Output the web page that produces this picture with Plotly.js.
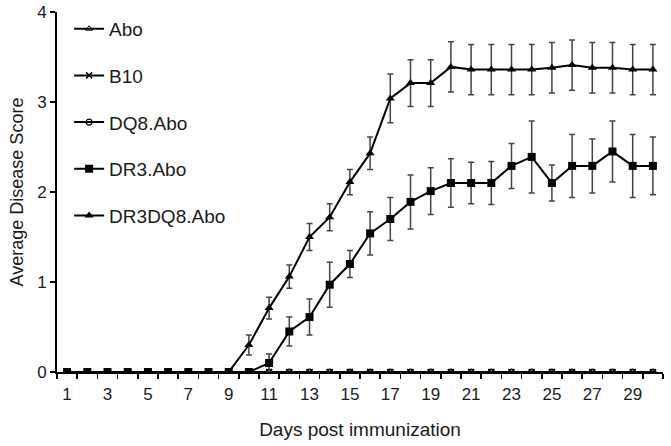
<!DOCTYPE html>
<html>
<head>
<meta charset="utf-8">
<script src="https://cdn.plot.ly/plotly-3.0.1.min.js"></script>
<style>html,body{margin:0;padding:0;background:#fff;}#chart{width:671px;height:446px;}</style>
</head>
<body>
<div id="chart"></div>
<script>
// Days post immunization (categories)
const days = [1,2,3,4,5,6,7,8,9,10,11,12,13,14,15,16,17,18,19,20,21,22,23,24,25,26,27,28,29,30];
const tickDays = [1,3,5,7,9,11,13,15,17,19,21,23,25,27,29];

const seriesNames = ["Abo","B10","DQ8.Abo","DR3.Abo","DR3DQ8.Abo"];

const abo     = [0,0,0,0,0,0,0,0,0,0,0,0,0,0,0,0,0,0,0,0,0,0,0,0,0,0,0,0,0,0];
const b10     = [0,0,0,0,0,0,0,0,0,0,0,0,0,0,0,0,0,0,0,0,0,0,0,0,0,0,0,0,0,0];
const dq8Abo  = [0,0,0,0,0,0,0,0,0,0,0,0,0,0,0,0,0,0,0,0,0,0,0,0,0,0,0,0,0,0];
const dr3Abo  = [0,0,0,0,0,0,0,0,0,0,0.10,0.45,0.61,0.97,1.20,1.54,1.70,1.89,2.01,2.10,2.10,2.10,2.29,2.39,2.10,2.29,2.29,2.45,2.29,2.29];
const dr3AboErr = [0,0,0,0,0,0,0,0,0,0,0.10,0.16,0.20,0.25,0.15,0.24,0.24,0.30,0.26,0.27,0.23,0.24,0.25,0.40,0.20,0.35,0.30,0.34,0.35,0.32];
const dr3dq8Abo = [0,0,0,0,0,0,0,0,0,0.30,0.71,1.06,1.50,1.72,2.11,2.43,3.04,3.21,3.21,3.39,3.36,3.36,3.36,3.36,3.38,3.41,3.38,3.38,3.36,3.36];
const dr3dq8AboErr = [0,0,0,0,0,0,0,0,0,0.11,0.12,0.13,0.15,0.15,0.14,0.18,0.27,0.26,0.26,0.28,0.28,0.28,0.28,0.28,0.28,0.28,0.28,0.28,0.28,0.28];

const boundaries = [];
for (let i = 0; i <= days.length; i++) boundaries.push(days[0] - 0.5 + i);

const FONT = "Liberation Sans, Arial, sans-serif";
const TXT = "#1a1a1a";
const lineStyle = {color: "#000", width: 2};
const errStyle = (arr) => ({type: "data", array: arr, visible: true, color: "#444", thickness: 1.5, width: 3});

const traces = [
  {x: days, y: abo, name: seriesNames[0], legendgroup: "a", mode: "lines+markers", line: lineStyle,
   marker: {symbol: "triangle-up-open", size: 6, color: "#000", line: {width: 1, color: "#000"}}},
  {x: days, y: b10, name: seriesNames[1], legendgroup: "b", mode: "lines+markers", line: lineStyle,
   marker: {symbol: "x-thin-open", size: 6, color: "#000", line: {width: 1.5, color: "#000"}}},
  {x: days, y: dq8Abo, name: seriesNames[2], legendgroup: "c", mode: "lines+markers", line: lineStyle,
   marker: {symbol: "circle-open", size: 6, color: "#000", line: {width: 1.2, color: "#000"}}},
  {x: days, y: dr3Abo, name: seriesNames[3], legendgroup: "d", mode: "lines+markers", line: lineStyle,
   error_y: errStyle(dr3AboErr),
   marker: {symbol: "square", size: 8, color: "#000"}},
  {x: days, y: dr3dq8Abo, name: seriesNames[4], legendgroup: "e", mode: "lines+markers", line: lineStyle,
   error_y: errStyle(dr3dq8AboErr),
   marker: {symbol: "triangle-up", size: 8, color: "#000"}}
];

const layout = {
  width: 671, height: 446,
  margin: {l: 57, r: 8, t: 12, b: 74},
  paper_bgcolor: "#fff", plot_bgcolor: "#fff",
  font: {family: FONT, size: 16, color: TXT},
  showlegend: true,
  legend: {x: 0.02, y: 1.006, xanchor: "left", yanchor: "top", bgcolor: "rgba(0,0,0,0)",
           font: {family: FONT, size: 19, color: TXT}, tracegroupgap: 19, itemwidth: 30},
  xaxis: {
    range: [0.5, 30.5], showgrid: false, zeroline: false,
    showline: true, linecolor: "#000", linewidth: 2,
    tickmode: "array", tickvals: tickDays, ticktext: tickDays.map(String),
    ticks: "", ticklen: 0, ticklabelstandoff: 6,
    minor: {tickmode: "array", tickvals: boundaries, ticks: "outside", ticklen: 5, tickcolor: "#000", tickwidth: 1.5, showgrid: false},
    tickfont: {family: FONT, size: 17, color: TXT},
    title: {text: "Days post immunization", font: {family: FONT, size: 19, color: TXT}, standoff: 19}
  },
  yaxis: {
    range: [0, 4], showgrid: false, zeroline: false,
    showline: true, linecolor: "#000", linewidth: 2,
    tickvals: [0,1,2,3,4], ticks: "outside", ticklen: 5, tickcolor: "#000", tickwidth: 1.5,
    tickfont: {family: FONT, size: 17, color: TXT},
    title: {text: "Average Disease Score", font: {family: FONT, size: 18, color: TXT}, standoff: 9}
  }
};

Plotly.newPlot("chart", traces, layout, {displayModeBar: false, staticPlot: true});
</script>
</body>
</html>
